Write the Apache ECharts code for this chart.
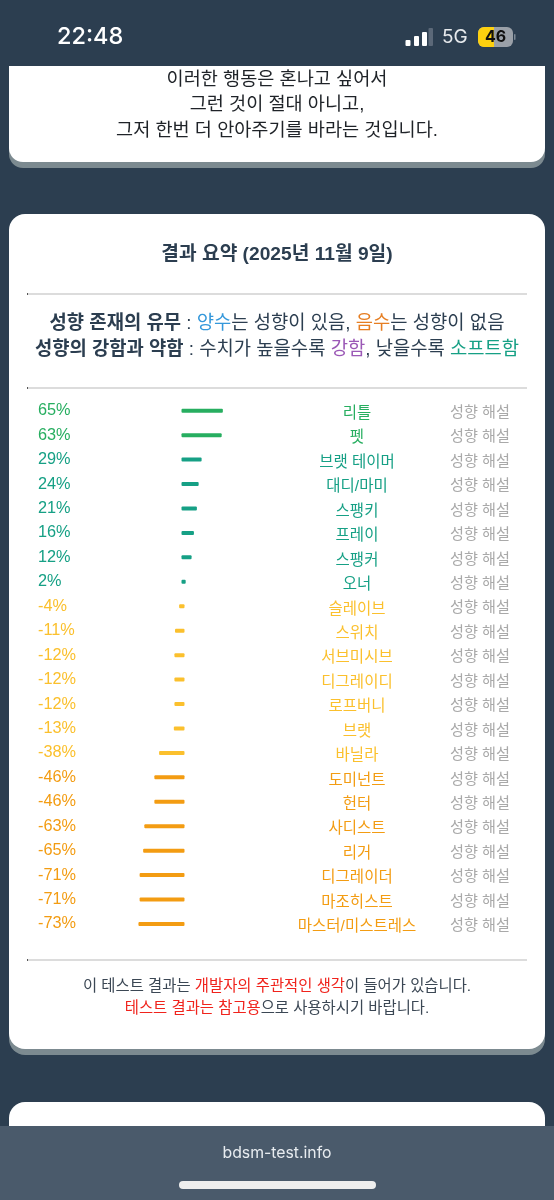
<!DOCTYPE html>
<html lang="ko">
<head>
<meta charset="utf-8">
<title>결과 요약</title>
<script src="https://cdn.jsdelivr.net/npm/echarts@6/dist/echarts.min.js"></script>
<style>
  html, body { margin: 0; padding: 0; background: #2c3e50; }
  #chart { width: 554px; height: 1200px; }
</style>
</head>
<body>
<div id="chart"></div>
<script>
const names = ['리틀', '펫', '브랫 테이머', '대디/마미', '스팽키', '프레이', '스팽커', '오너',
  '슬레이브', '스위치', '서브미시브', '디그레이디', '로프버니', '브랫', '바닐라', '도미넌트',
  '헌터', '사디스트', '리거', '디그레이더', '마조히스트', '마스터/미스트레스'];
const values = [65, 63, 29, 24, 21, 16, 12, 2, -4, -11, -12, -12, -12, -13, -38, -46, -46, -63, -65, -71, -71, -73];
const hintLabel = '성향 해설';

const FONT = '"Liberation Sans", "Noto Sans CJK KR", sans-serif';
const NAVY = '#2c3e50';
const LEGEND_SIZE = 18.8;
const NOTE_SIZE = 15.4;

// Same colour steps the page uses for strong/weak scores
function scoreColor(v) {
  if (v >= 50) return '#27ae60';
  if (v >= 0) return '#16a085';
  if (v > -40) return '#fbc02d';
  return '#f39c12';
}

function rect(x, y, w, h, fill, r) {
  return { type: 'rect', shape: { x, y, width: w, height: h, r: r || 0 }, style: { fill } };
}

function text(x, y, str, size, extra) {
  return {
    type: 'text', x, y,
    style: {
      text: str, fontSize: size, fontFamily: FONT, fill: NAVY,
      align: 'center', verticalAlign: 'middle', ...extra,
    },
  };
}

function divider(y) {
  return [rect(27, y - 1, 500, 2, '#dcdcdc'), rect(27, y - 1, 1, 2, '#555')];
}

function richStyle(size, fill, bold) {
  return { fontSize: size, fontFamily: FONT, fill, fontWeight: bold ? 'bold' : 'normal' };
}

const richLegend = {
  b: richStyle(LEGEND_SIZE, NAVY, true),
  n: richStyle(LEGEND_SIZE, NAVY),
  blue: richStyle(LEGEND_SIZE, '#3498db'),
  orange: richStyle(LEGEND_SIZE, '#e67e22'),
  purple: richStyle(LEGEND_SIZE, '#9b59b6'),
  teal: richStyle(LEGEND_SIZE, '#16a085'),
};
const richNote = {
  n: richStyle(NOTE_SIZE, '#3b4754'),
  r: richStyle(NOTE_SIZE, '#f0231c'),
};

const backdrop = [
  // first card (scrolled under the status bar)
  rect(9, 70, 536, 98, '#7c8a90', [0, 0, 14, 14]),
  rect(9, 66, 536, 96, '#ffffff', [0, 0, 14, 14]),
  text(277, 80, '이러한 행동은 혼나고 싶어서', 18.6, { fill: '#1f2328' }),
  text(277, 105, '그런 것이 절대 아니고,', 18.6, { fill: '#1f2328' }),
  text(277, 131, '그저 한번 더 안아주기를 바라는 것입니다.', 18.6, { fill: '#1f2328' }),

  // result card
  rect(9, 220, 536, 835, '#7c8a90', 16),
  rect(9, 214, 536, 835, '#ffffff', 16),
  text(277, 255, '결과 요약 (2025년 11월 9일)', 19.2, { fontWeight: 'bold' }),
  ...divider(294),
  text(277, 324, '{b|성향 존재의 유무} {n|:} {blue|양수}{n|는 성향이 있음,} {orange|음수}{n|는 성향이 없음}', LEGEND_SIZE, { rich: richLegend }),
  text(277, 350, '{b|성향의 강함과 약함} {n|: 수치가 높을수록} {purple|강함}{n|, 낮을수록} {teal|소프트함}', LEGEND_SIZE, { rich: richLegend }),
  ...divider(388),
  ...divider(960),
  text(277, 987, '{n|이 테스트 결과는} {r|개발자의 주관적인 생각}{n|이 들어가 있습니다.}', NOTE_SIZE, { rich: richNote }),
  text(277, 1009, '{r|테스트 결과는 참고용}{n|으로 사용하시기 바랍니다.}', NOTE_SIZE, { rich: richNote }),

  // next card, cut by the browser bar
  rect(9, 1102, 536, 60, '#ffffff', 16),
  rect(0, 1126, 554, 74, '#4a5a6b'),
  text(277, 1153, 'bdsm-test.info', 15.8, { fill: '#e8ecf0', fontFamily: 'Inter, sans-serif', letterSpacing: 0.3 }),
  rect(179, 1181, 197, 8, '#eeeeee', 4),

  // status bar
  rect(0, 0, 554, 66, NAVY),
  text(57, 37, '22:48', 23.5, { align: 'left', fill: '#ffffff', fontFamily: 'Inter, sans-serif', fontWeight: 500 }),
  rect(405.5, 40, 5, 6, '#ffffff', 1),
  rect(414, 36, 5, 10, '#ffffff', 1),
  rect(422, 32, 5, 14, '#ffffff', 1),
  rect(428.5, 28, 4.5, 18, '#5b6878', 1),
  text(442, 37, '5G', 19, { align: 'left', fill: '#e6e9ec', fontFamily: 'Inter, sans-serif' }),
  rect(478, 27, 35, 20, '#9aa0a8', 6),
  rect(478, 27, 16, 20, '#fdd00f', [6, 0, 0, 6]),
  rect(514, 34, 1.5, 6, '#7d8894', 1),
  text(495.5, 37.5, '46', 16, { fill: '#101010', fontWeight: 'bold', fontFamily: 'Inter, sans-serif' }),
];

const hiddenAxisParts = { axisLine: { show: false }, axisTick: { show: false } };

// Bars sit on the axis scale but reach a little past both ends, like the page's rounded divs
const BAR_THICKNESS = 4;
const BAR_OVERHANG = 1.5;

function renderBar(params, api) {
  const v = api.value(0);
  const from = api.coord([0, api.value(1)]);
  const to = api.coord([v, api.value(1)]);
  const left = Math.min(from[0], to[0]) - BAR_OVERHANG;
  const width = Math.abs(to[0] - from[0]) + BAR_OVERHANG * 2;
  return {
    type: 'rect',
    shape: { x: left, y: from[1] - BAR_THICKNESS / 2, width, height: BAR_THICKNESS, r: 1 },
    style: { fill: scoreColor(v) },
  };
}

const hiddenX = { type: 'value', min: -100, max: 100, show: false };

const chart = echarts.init(document.getElementById('chart'));
chart.setOption({
  animation: false,
  backgroundColor: NAVY,
  graphic: { elements: backdrop },
  // the text columns sit slightly lower than the bars, so each gets its own grid
  grid: [
    { left: 124, top: 398.5, width: 118, height: 537.7 },
    { left: 124, top: 401.5, width: 118, height: 537.7 },
    { left: 124, top: 400.5, width: 118, height: 537.7 },
  ],
  xAxis: [
    { ...hiddenX, gridIndex: 0 },
    { ...hiddenX, gridIndex: 1 },
    { ...hiddenX, gridIndex: 2 },
  ],
  yAxis: [
    {
      // percentages, left aligned at the card's left column
      type: 'category', inverse: true, position: 'left', z: 5, gridIndex: 0,
      data: values.map(v => v + '%'), ...hiddenAxisParts,
      axisLabel: {
        interval: 0, align: 'left', margin: 86, fontSize: 16.3, fontFamily: FONT,
        color: (val, i) => scoreColor(values[i]),
      },
    },
    {
      type: 'category', inverse: true, position: 'right', z: 5, gridIndex: 1,
      data: names, ...hiddenAxisParts,
      axisLabel: {
        interval: 0, align: 'center', margin: 115, fontSize: 15.5, fontFamily: FONT,
        color: (val, i) => scoreColor(values[i]),
      },
    },
    {
      type: 'category', inverse: true, position: 'right', z: 5, gridIndex: 2,
      data: names.map(() => hintLabel), ...hiddenAxisParts,
      axisLabel: {
        interval: 0, align: 'center', margin: 238, fontSize: 15.2, fontFamily: FONT,
        color: '#a9a9a9',
      },
    },
  ],
  series: [{
    type: 'custom',
    xAxisIndex: 0,
    yAxisIndex: 0,
    renderItem: renderBar,
    encode: { x: 0, y: 1 },
    data: values.map((v, i) => [v, i]),
  }],
});
</script>
</body>
</html>
